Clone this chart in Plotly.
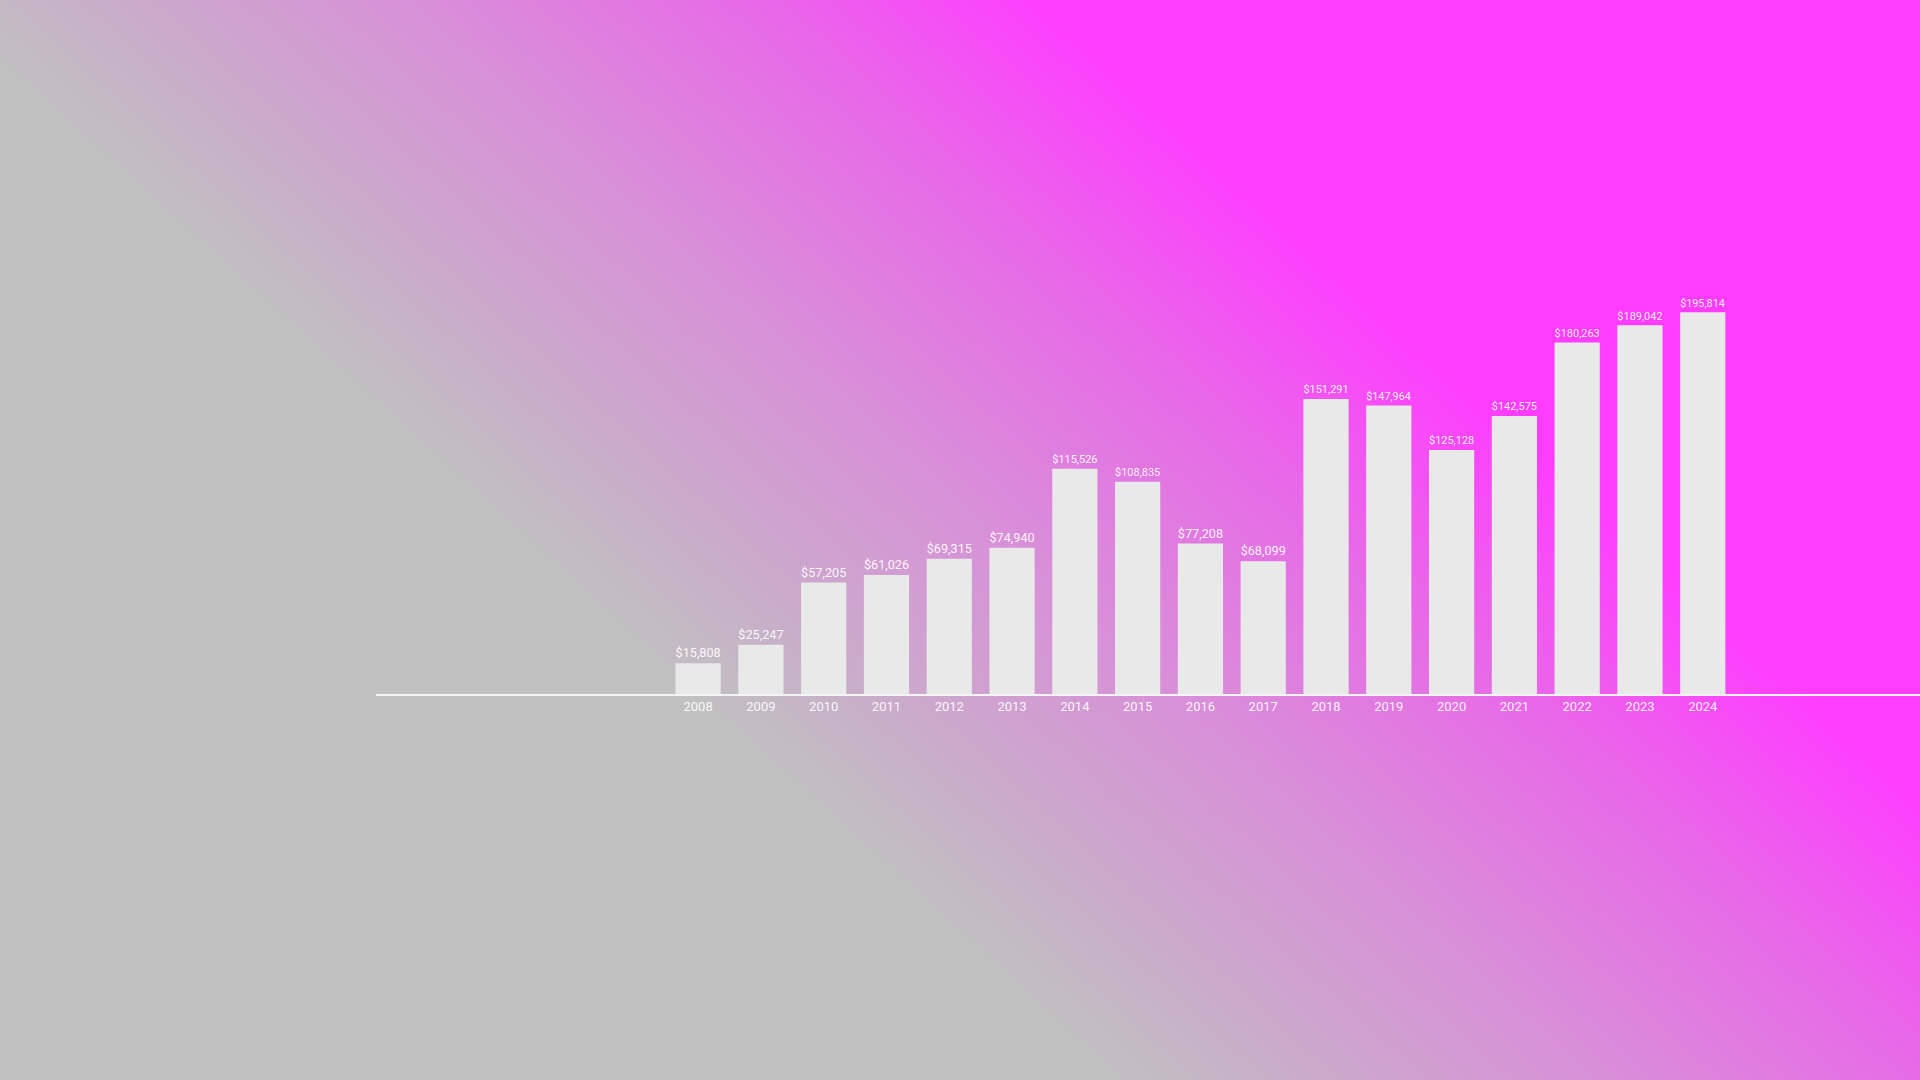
"""Yearly totals bar chart on a grey-to-magenta gradient background."""

import plotly.graph_objects as go

years = [str(y) for y in range(2008, 2025)]
amounts = [
    15808, 25247, 57205, 61026, 69315, 74940, 115526, 108835, 77208,
    68099, 151291, 147964, 125128, 142575, 180263, 189042, 195814,
]

W, H = 1920, 1080
MARGIN = dict(l=376, r=0, t=109, b=386)
plot_w = W - MARGIN["l"] - MARGIN["r"]
plot_h = H - MARGIN["t"] - MARGIN["b"]

# background gradient as an inline svg
gradient_svg = (
    "<svg xmlns='http://www.w3.org/2000/svg' width='1920' height='1080' "
    "viewBox='0 0 1920 1080' preserveAspectRatio='none'>"
    "<defs><linearGradient id='g' gradientUnits='userSpaceOnUse' "
    "x1='-36.2' y1='39.8' x2='475' y2='-522.5'>"
    "<stop offset='0' stop-color='#c0c1c0'/>"
    "<stop offset='0.204' stop-color='#cca8cc'/>"
    "<stop offset='0.434' stop-color='#d890d8'/>"
    "<stop offset='0.743' stop-color='#e868e8'/>"
    "<stop offset='1' stop-color='#ff3cff'/>"
    "</linearGradient></defs>"
    "<rect width='1920' height='1080' fill='url(#g)'/></svg>"
)
bg_uri = "data:image/svg+xml;utf8," + gradient_svg.replace("#", "%23").replace("<", "%3C").replace(">", "%3E")

fig = go.Figure()
fig.add_trace(
    go.Bar(
        x=years,
        y=amounts,
        marker=dict(color="#e8e9e8", line=dict(width=0)),
        texttemplate="$%{y:,.0f}",
        textposition="outside",
        textfont=dict(family="Roboto", size=13, color="rgba(255,255,255,0.92)"),
        cliponaxis=False,
        hoverinfo="skip",
    )
)

fig.update_layout(
    width=W,
    height=H,
    margin=MARGIN,
    paper_bgcolor="#c0c1c0",
    plot_bgcolor="rgba(0,0,0,0)",
    bargap=0.28,
    showlegend=False,
    images=[
        dict(
            source=bg_uri,
            xref="paper", yref="paper",
            x=-MARGIN["l"] / plot_w,
            y=1 + MARGIN["t"] / plot_h,
            sizex=W / plot_w,
            sizey=H / plot_h,
            sizing="stretch",
            xanchor="left", yanchor="top",
            layer="below",
        )
    ],
)
fig.update_xaxes(
    type="category",
    range=[-5.13, 19.46],
    showline=True,
    linecolor="#f4f4f4",
    linewidth=1.5,
    showgrid=False,
    ticks="",
    tickfont=dict(family="Roboto", size=13, color="rgba(255,255,255,0.92)"),
)
fig.update_yaxes(
    range=[0, 300000],
    visible=False,
    showgrid=False,
    zeroline=False,
)

# drop the default page margin so the chart fills the window
fig.write_html(
    "out.html",
    config={"displayModeBar": False},
    post_script="document.body.style.margin='0';",
)
